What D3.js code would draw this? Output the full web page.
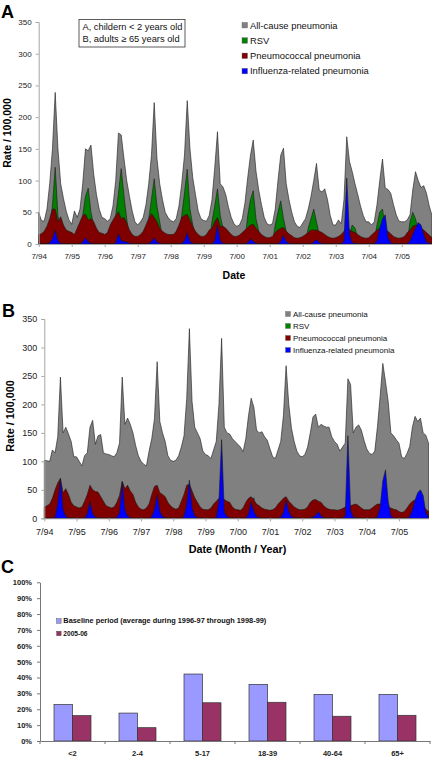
<!DOCTYPE html>
<html><head><meta charset="utf-8">
<script src="https://cdn.jsdelivr.net/npm/d3@7"></script>
<style>body{margin:0;background:#fff}svg{display:block;font-family:Arial,"Liberation Sans",sans-serif}</style>
</head><body><svg id="c" width="432" height="764"></svg>
<script>
// ---- data ----
const yearTicks = ["7/94","7/95","7/96","7/97","7/98","7/99","7/00","7/01","7/02","7/03","7/04","7/05"];
const rateTicks = [0,50,100,150,200,250,300,350];
const seriesNames = ["All-cause pneumonia","RSV","Pneumococcal pneumonia","Influenza-related pneumonia"];
const seriesColors = ["#808080","#008000","#800000","#0000ff"];

// Panel A: children < 2 years, monthly from 7/94 to 6/06
const childAllCause = [
 50,37,36,55,95,150,239,150,95,72,52,38,
 31,52,42,55,95,150,147,156,110,78,55,42,
 40,36,40,60,100,175,172,135,100,75,52,35,
 30,35,42,62,95,140,223,135,95,70,50,42,
 37,35,40,60,95,140,226,150,105,78,52,40,
 37,36,45,70,120,177,95,90,78,58,42,32,
 28,30,40,65,105,140,164,115,85,62,42,32,
 30,32,55,100,140,151,95,70,50,35,28,26,
 33,40,55,75,100,127,85,82,87,70,45,30,
 30,38,32,70,169,130,114,95,78,60,45,35,
 35,30,35,62,100,134,88,86,80,62,46,36,
 35,35,38,46,85,114,100,89,92,80,60,45];
const childRSV = [
 3,2,2,5,30,60,121,45,20,8,4,3,
 3,2,2,4,45,75,88,50,30,8,4,3,
 3,2,2,5,45,80,119,76,40,10,4,3,
 3,2,2,5,40,70,103,60,35,10,4,3,
 3,2,2,5,45,80,118,55,30,10,4,3,
 3,2,3,35,60,87,45,25,8,4,3,2,
 2,2,3,5,45,70,84,40,20,8,4,3,
 2,2,30,50,68,40,20,8,4,3,2,2,
 2,3,25,40,55,35,15,8,4,3,2,2,
 2,2,3,5,10,15,30,25,10,4,3,2,
 2,2,3,30,50,55,25,10,5,3,2,2,
 2,2,3,35,50,40,20,8,4,3,2,2];
const childPneumococcal = [
 15,16,20,28,40,55,55,35,43,30,22,20,
 18,15,25,35,45,47,38,40,35,25,18,17,
 15,18,30,38,45,51,40,42,33,22,15,12,
 12,15,20,30,40,48,42,35,25,20,17,15,
 15,15,20,30,42,45,47,38,28,20,15,12,
 12,15,22,25,35,42,28,28,25,20,15,12,
 12,14,18,22,26,30,31,25,20,15,12,10,
 10,12,18,22,25,26,20,16,13,10,9,10,
 12,15,18,22,22,22,20,18,15,12,10,9,
 10,12,15,20,28,22,20,18,15,12,10,9,
 10,14,18,22,25,25,22,20,16,12,10,9,
 10,12,18,22,28,30,28,25,22,18,14,10];
const childInfluenza = [
 0,0,0,0,2,8,22,5,1,0,0,0,
 0,0,0,0,3,10,3,1,0,0,0,0,
 0,0,0,0,2,16,5,4,3,1,0,0,
 0,0,0,0,1,3,10,3,1,0,0,0,
 0,0,0,0,1,5,18,4,1,0,0,0,
 0,0,0,0,5,30,5,1,0,0,0,0,
 0,0,0,0,2,8,4,1,0,0,0,0,
 0,0,0,0,4,14,4,1,0,0,0,0,
 0,0,0,0,3,7,2,1,0,0,0,0,
 0,0,0,5,104,15,2,1,0,0,0,0,
 0,0,0,5,25,40,46,10,2,0,0,0,
 0,0,0,5,15,25,34,30,15,3,1,0];

// Panel B: adults >= 65 years
const adultAllCause = [
 102,101,100,120,115,143,248,150,160,148,135,108,
 108,100,92,110,115,160,172,130,145,147,115,113,
 112,110,108,115,132,248,165,176,165,150,128,110,
 100,95,92,118,140,175,275,170,150,135,110,102,
 100,102,110,125,145,210,333,205,160,150,140,118,
 112,110,105,120,135,200,316,160,150,148,140,135,
 130,125,117,140,180,211,195,155,150,152,143,137,
 122,108,105,120,135,180,268,200,158,135,118,110,
 108,112,125,150,178,183,160,165,162,160,160,143,
 135,130,118,125,132,245,235,150,160,164,155,137,
 122,114,112,118,161,214,272,240,205,150,145,138,
 132,108,105,114,126,160,179,170,176,150,146,132];
const adultRSV = [
 0,0,0,0,0,0,0,0,0,0,0,0,
 0,0,0,0,0,0,0,0,0,0,0,0,
 0,0,0,0,0,0,0,0,0,0,0,0,
 0,0,0,0,0,0,0,0,0,0,0,0,
 0,0,0,0,0,0,0,0,0,0,0,0,
 0,0,0,0,0,0,0,0,0,0,0,0,
 0,0,0,0,0,0,36,0,0,0,0,0,
 0,0,0,0,0,0,0,0,0,0,0,0,
 0,0,0,0,0,0,0,0,0,0,0,0,
 0,0,0,0,0,0,0,0,0,0,0,0,
 0,0,0,0,0,0,0,0,0,0,0,0,
 0,0,0,0,0,0,0,0,0,0,0,0];
const adultPneumococcal = [
 20,22,25,35,50,62,70,45,52,42,28,22,
 20,18,20,30,42,58,50,47,46,38,30,22,
 20,18,20,28,40,65,52,58,48,42,28,20,
 16,15,18,25,42,56,58,45,42,38,28,22,
 18,16,18,30,42,58,60,48,36,28,20,16,
 15,15,18,25,30,35,36,33,30,28,20,16,
 15,14,18,28,35,38,32,25,22,18,16,15,
 14,15,18,25,30,35,38,30,25,20,17,15,
 15,16,20,28,32,33,30,28,22,18,16,15,
 15,14,15,17,20,24,22,24,25,22,18,15,
 15,15,18,22,25,25,26,24,20,18,16,15,
 12,10,12,18,25,30,32,30,28,22,16,12];
const adultInfluenza = [
 0,0,0,0,2,25,70,15,3,1,0,0,
 0,0,0,0,8,29,8,2,1,0,0,0,
 0,0,0,2,10,64,15,4,1,0,0,0,
 0,0,0,0,3,15,42,12,3,1,0,0,
 0,0,0,0,3,25,67,18,4,1,0,0,
 0,0,0,0,2,30,138,10,3,1,0,0,
 0,0,0,0,8,29,12,3,1,0,0,0,
 0,0,0,0,2,10,32,12,3,1,0,0,
 0,0,0,0,2,5,12,4,1,0,0,0,
 0,0,0,0,5,145,15,2,1,0,0,0,
 0,0,0,0,3,20,66,85,30,5,0,0,
 0,0,0,0,3,15,32,45,50,40,10,2];

// Panel C
const ageGroups = ["<2","2-4","5-17","18-39","40-64","65+"];
const baselinePct = [23,17.6,42.2,35.7,29.4,29.4];
const season0506Pct = [16,8.4,24.1,24.4,15.6,16.2];
const pctTicks = [0,10,20,30,40,50,60,70,80,90,100];
const cNames = ["Baseline period (average during 1996-97 through 1998-99)","2005-06"];
const cColors = ["#9999ff","#993366"];

// ---- drawing ----
const svg = d3.select("#c");
const axisCol = "#a6a6a6", txtCol = "#222";

function areaPanel(o){
  const g = svg.append("g");
  const n = o.series[0].length;
  const x = d3.scaleLinear().domain([0,n-1]).range([o.x0,o.x1]);
  const y = d3.scaleLinear().domain([0,350]).range([o.yb,o.yt]);
  o.series.forEach((s,k)=>{
    g.append("path").datum(s)
     .attr("d", d3.area().x((d,i)=>x(i)).y0(y(0)).y1(d=>y(d)))
     .attr("fill", seriesColors[k]).attr("stroke","#1a1a1a").attr("stroke-width",0.6)
     .attr("stroke-linejoin","round");
  });
  // y axis
  const ya = g.append("g").attr("transform",`translate(${o.x0},0)`)
    .call(d3.axisLeft(y).tickValues(rateTicks).tickSize(3).tickPadding(4));
  ya.select(".domain").attr("stroke",axisCol);
  ya.selectAll(".tick line").attr("stroke",axisCol);
  ya.selectAll("text").attr("font-size",o.tf).attr("fill",txtCol).attr("font-family","Arial");
  // x axis
  const xa = g.append("g").attr("transform",`translate(0,${o.yb})`)
    .call(d3.axisBottom(x).tickValues(d3.range(0,n,12)).tickFormat((d,i)=>yearTicks[i]).tickSize(3).tickPadding(o.xpad).tickSizeOuter(0));
  xa.select(".domain").attr("stroke",axisCol);
  xa.selectAll(".tick line").attr("stroke",axisCol);
  xa.selectAll("text").attr("font-size",o.xf).attr("fill",txtCol).attr("font-family","Arial");
  // titles
  g.append("text").attr("transform",`translate(${o.ylx},${o.yly}) rotate(-90)`).attr("text-anchor","middle")
   .attr("font-weight","bold").attr("font-size",o.tt).attr("fill","#000").text("Rate / 100,000");
  g.append("text").attr("x",o.xlx).attr("y",o.xly).attr("text-anchor","middle")
   .attr("font-weight","bold").attr("font-size",o.tt).attr("fill","#000").text(o.xTitle);
  g.append("text").attr("x",o.lx).attr("y",o.ly).attr("font-weight","bold").attr("font-size",18).text(o.letter);
  // legend
  seriesNames.forEach((nm,k)=>{
    const cy = o.legY + k*o.legDy;
    g.append("rect").attr("x",o.legX).attr("y",cy-o.legS/2).attr("width",o.legS).attr("height",o.legS)
      .attr("fill",seriesColors[k]).attr("stroke","#666").attr("stroke-width",0.4);
    g.append("text").attr("x",o.legX+o.legS+2.5).attr("y",cy+o.legF*0.36).attr("font-size",o.legF).attr("fill","#111").text(nm);
  });
}

areaPanel({series:[childAllCause,childRSV,childPneumococcal,childInfluenza],
  x0:38.7,x1:432,yb:244,yt:22,tf:8,xf:8,xpad:6,tt:10.5,
  ylx:11,yly:133,xlx:234,xly:279,xTitle:"Date",lx:1,ly:18,letter:"A",
  legX:242,legY:25.2,legDy:15.3,legS:5.5,legF:9.4});
areaPanel({series:[adultAllCause,adultRSV,adultPneumococcal,adultInfluenza],
  x0:44.3,x1:428.5,yb:518.3,yt:319,tf:9,xf:9,xpad:7,tt:10.8,
  ylx:14,yly:416,xlx:237.5,xly:553,xTitle:"Date (Month / Year)",lx:2,ly:317,letter:"B",
  legX:285.5,legY:314,legDy:12,legS:5,legF:8});

// annotation box in A
svg.append("rect").attr("x",79).attr("y",19.5).attr("width",106).attr("height",27.5)
  .attr("fill","#fff").attr("stroke","#333").attr("stroke-width",0.8);
svg.append("text").attr("x",82.5).attr("y",30).attr("font-size",9.3).attr("fill","#111").text("A, childern < 2 years old");
svg.append("text").attr("x",82.5).attr("y",42).attr("font-size",9.3).attr("fill","#111").text("B, adults \u2265 65 years old");

// Panel C
(function(){
  const g = svg.append("g");
  const x = d3.scaleBand().domain(ageGroups).range([40,430]);
  const xs = d3.scaleBand().domain([0,1]).range([0,x.bandwidth()]).paddingOuter(0.757);
  const y = d3.scaleLinear().domain([0,100]).range([741,582.3]);
  [baselinePct,season0506Pct].forEach((vals,k)=>{
    g.selectAll(null).data(vals).join("rect")
     .attr("x",(d,i)=>x(ageGroups[i])+xs(k)).attr("width",xs.bandwidth())
     .attr("y",d=>y(d)).attr("height",d=>y(0)-y(d))
     .attr("fill",cColors[k]).attr("stroke","#333").attr("stroke-width",0.7);
  });
  const ya = g.append("g").attr("transform","translate(40,0)")
    .call(d3.axisLeft(y).tickValues(pctTicks).tickFormat(d=>d+"%").tickSize(3).tickPadding(5).tickSizeOuter(0));
  ya.select(".domain").attr("stroke","#777");
  ya.selectAll(".tick line").attr("stroke","#777");
  ya.selectAll("text").attr("font-size",7.5).attr("font-weight","bold").attr("fill",txtCol).attr("font-family","Arial");
  const xa = g.append("g").attr("transform","translate(0,741)")
    .call(d3.axisBottom(x).tickSize(0).tickPadding(10));
  xa.select(".domain").attr("stroke","#777");
  xa.selectAll("text").attr("font-size",7.5).attr("font-weight","bold").attr("fill",txtCol).attr("font-family","Arial");
  // band boundary ticks
  g.selectAll(null).data(d3.range(ageGroups.length+1)).join("line")
   .attr("x1",i=>40+i*x.step()).attr("x2",i=>40+i*x.step()).attr("y1",741).attr("y2",744)
   .attr("stroke","#777");
  g.append("text").attr("x",1).attr("y",573).attr("font-weight","bold").attr("font-size",18).text("C");
  cNames.forEach((nm,k)=>{
    const cy = 621 + k*12.5;
    g.append("rect").attr("x",56.7).attr("y",cy-2.2).attr("width",4.4).attr("height",4.4)
     .attr("fill",cColors[k]).attr("stroke","#333").attr("stroke-width",0.4);
    const t = g.append("text").attr("x",63.3).attr("y",cy+2.4).attr("font-size",6.6).attr("font-weight","bold").attr("fill","#111").text(nm);
    if(k===0) t.attr("textLength",203).attr("lengthAdjust","spacingAndGlyphs");
  });
})();
</script></body></html>
